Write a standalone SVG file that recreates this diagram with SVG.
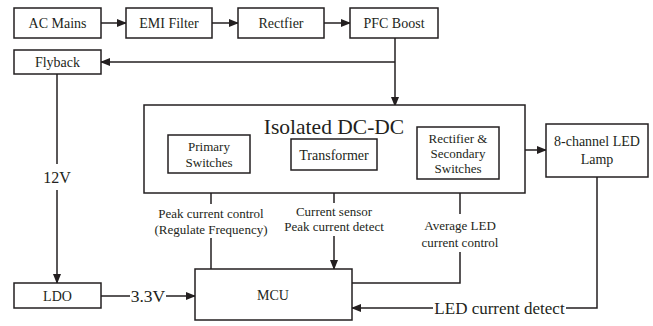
<svg xmlns="http://www.w3.org/2000/svg" width="653" height="326" viewBox="0 0 653 326" font-family="'Liberation Serif', 'Times New Roman', serif">
<defs>
<marker id="ah" markerWidth="10" markerHeight="8" refX="9" refY="4" orient="auto" markerUnits="userSpaceOnUse">
<path d="M0,0 L10,4 L0,8 Z" fill="#231f20"/>
</marker>
<style>
.box{fill:#fff;stroke:#231f20;stroke-width:1.5}
.ln{fill:none;stroke:#231f20;stroke-width:1.5}
.arr{fill:none;stroke:#231f20;stroke-width:1.5;marker-end:url(#ah)}
text{font-family:'Liberation Serif','Times New Roman',serif;fill:#231f20;text-anchor:middle}
.t{font-size:14px}
.s{font-size:13px}
</style>
</defs>
<rect width="653" height="326" fill="#fff"/>
<g id="connectors">
<line class="arr" x1="101" y1="23" x2="126" y2="23"/>
<line class="arr" x1="212" y1="23" x2="238" y2="23"/>
<line class="arr" x1="324" y1="23" x2="350" y2="23"/>
<line class="arr" x1="395" y1="38" x2="395" y2="106"/>
<line class="arr" x1="395" y1="62" x2="101" y2="62"/>
<polyline class="ln" points="57,74 57,164"/>
<line class="arr" x1="57" y1="190" x2="57" y2="283"/>
<line class="arr" x1="250" y1="155" x2="291" y2="155"/>
<line class="arr" x1="377" y1="155" x2="417" y2="155"/>
<line class="arr" x1="525" y1="150" x2="546" y2="150"/>
<line class="arr" x1="101" y1="296" x2="195" y2="296"/>
<line class="ln" x1="211" y1="269" x2="211" y2="238"/>
<line class="arr" x1="211" y1="204" x2="211" y2="173"/>
<line class="ln" x1="334" y1="169" x2="334" y2="203"/>
<line class="arr" x1="334" y1="236" x2="334" y2="269"/>
<polyline class="ln" points="352,283 460,283 460,252"/>
<line class="arr" x1="460" y1="214" x2="460" y2="179"/>
<polyline class="ln" points="597,177 597,308 566,308"/>
<line class="arr" x1="433" y1="308" x2="352" y2="308"/>
</g>
<g id="ac-mains"><rect class="box" x="14" y="8" width="87" height="30"/><text class="t" x="57.5" y="28">AC Mains</text></g>
<g id="emi-filter"><rect class="box" x="126" y="8" width="86" height="30"/><text class="t" x="169" y="28">EMI Filter</text></g>
<g id="rectfier"><rect class="box" x="238" y="8" width="86" height="30"/><text class="t" x="281" y="28">Rectfier</text></g>
<g id="pfc-boost"><rect class="box" x="350" y="8" width="88" height="30"/><text class="t" x="394" y="28">PFC Boost</text></g>
<g id="flyback"><rect class="box" x="14" y="50" width="87" height="24"/><text class="t" x="57.5" y="67">Flyback</text></g>
<g id="isolated-dcdc"><rect class="box" x="144" y="105" width="381" height="88"/><text x="334" y="134" style="font-size:21.5px">Isolated DC-DC</text></g>
<g id="primary-switches"><rect class="box" x="168" y="135" width="82" height="38"/><text class="s" x="209" y="151">Primary</text><text class="s" x="209" y="167">Switches</text></g>
<g id="transformer"><rect class="box" x="291" y="139" width="86" height="31"/><text class="t" x="334" y="159.5">Transformer</text></g>
<g id="rectifier-secondary"><rect class="box" x="417" y="127" width="82" height="52"/><text class="s" x="458" y="143">Rectifier &amp;</text><text class="s" x="458" y="158">Secondary</text><text class="s" x="458" y="173">Switches</text></g>
<g id="led-lamp"><rect class="box" x="546" y="124" width="102" height="53"/><text class="t" x="597" y="146">8-channel LED</text><text class="t" x="597" y="164">Lamp</text></g>
<g id="ldo"><rect class="box" x="14" y="283" width="87" height="25"/><text class="t" x="57.5" y="300.5">LDO</text></g>
<g id="mcu"><rect class="box" x="195" y="269" width="157" height="51"/><text class="t" x="273" y="300">MCU</text></g>
<g id="labels">
<rect x="45" y="166" width="24" height="22" fill="#fff"/>
<text x="57" y="183" style="font-size:16px">12V</text>
<rect x="130" y="288" width="36" height="16" fill="#fff"/>
<text x="148" y="302" style="font-size:17.5px">3.3V</text>
<text class="s" x="211" y="218">Peak current control</text>
<text class="s" x="211" y="234">(Regulate Frequency)</text>
<text class="s" x="334" y="216">Current sensor</text>
<text class="s" x="334" y="231">Peak current detect</text>
<text class="s" x="460" y="230">Average LED</text>
<text class="s" x="460" y="247">current control</text>
<text x="499.5" y="314" style="font-size:17px">LED current detect</text>
</g>
</svg>
